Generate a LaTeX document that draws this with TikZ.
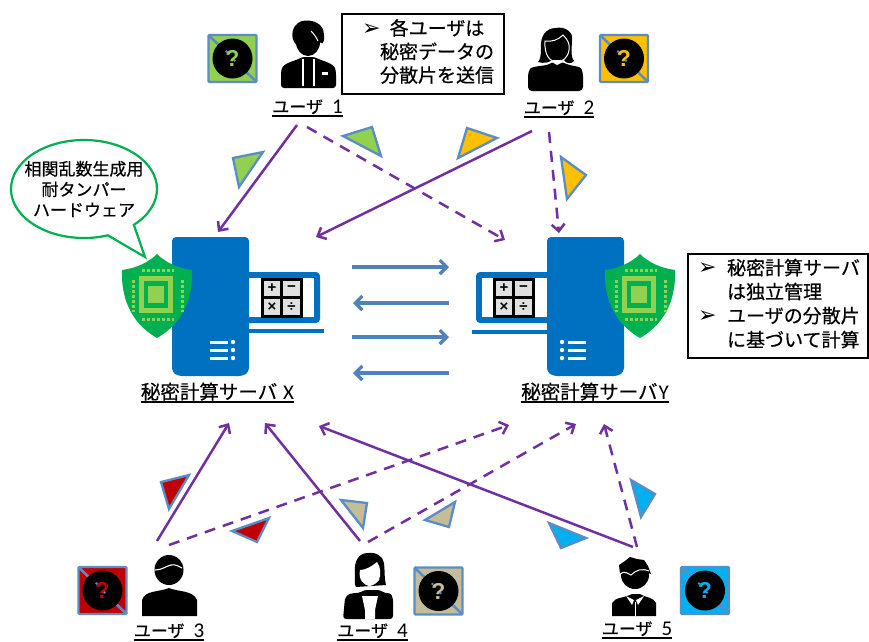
\documentclass[tikz,border=0pt]{standalone}
\usepackage{fontspec}
\setmainfont{Noto Sans CJK JP}[RawFeature={embolden=0.5}]
\newfontfamily\latinf{Carlito}
\newfontfamily\dejavu{DejaVu Sans}
\newfontfamily\arialf{Liberation Sans}
\usetikzlibrary{arrows.meta,shapes.callouts,shapes.geometric}
\definecolor{flowpurple}{RGB}{112,48,160}
\definecolor{linkblue}{RGB}{79,129,189}
\definecolor{edgeblue}{RGB}{91,140,198}
\definecolor{srvblue}{RGB}{0,112,192}
\definecolor{hwgreen}{RGB}{0,176,80}
\definecolor{lightgreen}{RGB}{146,208,80}
\definecolor{cOne}{RGB}{146,208,80}
\definecolor{cTwo}{RGB}{255,192,0}
\definecolor{cThree}{RGB}{192,0,0}
\definecolor{cFour}{RGB}{196,189,151}
\definecolor{cFive}{RGB}{0,176,240}
\newsavebox{\ulsave}
\newcommand{\ulbox}[2][-3.5pt]{\sbox{\ulsave}{#2}\leavevmode\rlap{\rule[#1]{\wd\ulsave}{1.4pt}}\usebox{\ulsave}}
\newcommand{\blt}{\makebox[13pt][l]{\dejavu\fontsize{22}{17}\selectfont ➢}}
\tikzset{
  solidflow/.style={draw=flowpurple,line width=2.5pt,-{Straight Barb[length=7pt,width=13pt]}},
  dashflow/.style={solidflow,dash pattern=on 11pt off 8pt},
  netlink/.style={draw=linkblue,line width=3.2pt,-{Straight Barb[length=7pt,width=14pt]}},
  share/.style={draw=edgeblue,line width=2.3pt,line join=miter},
  notebox/.style={draw=black,line width=1.2pt,inner sep=0pt,rectangle},
  ulabel/.style={anchor=base,inner sep=0pt,font=\fontsize{17}{20}\selectfont},
  slabel/.style={anchor=base,inner sep=0pt,font=\fontsize{19.5}{22}\selectfont},
  calc/.style={inner sep=0pt,font=\arialf\bfseries\fontsize{15}{15}\selectfont},
}
% question-mark share icon
\newcommand{\qicon}[4]{%
  \fill[#3] (#1-24,#2-23.5) rectangle (#1+24,#2+23.5);
  \draw[edgeblue,line width=2.6pt] (#1-24,#2-23.5) -- (#1+24,#2+23.5);
  \fill[black] (#1,#2) circle (20);
  \draw[edgeblue,line width=2.2pt,rounded corners=1pt] (#1-24,#2-23.5) rectangle (#1+24,#2+23.5);
  \node[inner sep=0pt,text=#3,font=\arialf\bfseries\fontsize{23}{23}\selectfont] (#4) at (#1,#2) {?};
  \fill[edgeblue] (#1-6,#2-7) circle (1.4) (#1+2,#2+2) circle (1.4);
}
% server tower
\newcommand{\tower}[1]{%
  \fill[srvblue,rounded corners=4pt] (#1,237) -- (#1+77,237) -- (#1+77,372) -- (#1+71,376) -- (#1+6,376) -- (#1,372) -- cycle;
}
% list marks on the tower
\newcommand{\listmarks}[3]{%
  \foreach \yy in {342,350,358} {
    \draw[white,line width=3pt] (#1,\yy) -- (#2,\yy);
    \fill[white] (#3,\yy) circle (2.2);
  }
}
% calculator
\newcommand{\calcicon}[5]{%
  \fill[white!88!black] (#1,279) rectangle (#1+39,316);
  \draw[black,line width=3pt] (#1,279) rectangle (#1+39,316);
  \draw[black,line width=2.4pt] (#1+19.5,279) -- (#1+19.5,316) (#1,297.5) -- (#1+39,297.5);
  \node[calc] (#2) at (#1+10,288.5) {+};
  \node[calc] (#3) at (#1+29.5,288.5) {−};
  \node[calc] (#4) at (#1+10,307) {×};
  \node[calc] (#5) at (#1+29.5,307) {÷};
}
% shield with chip
\newcommand{\shieldchip}[1]{%
  \fill[hwgreen] (#1,254) .. controls (#1+8,262) and (#1+20,268) .. (#1+35,270)
     .. controls (#1+36,295) and (#1+28,322) .. (#1,338)
     .. controls (#1-28,322) and (#1-36,295) .. (#1-35,270)
     .. controls (#1-20,268) and (#1-8,262) .. (#1,254) -- cycle;
  \fill[lightgreen] (#1-18,276) rectangle (#1+16,313);
  \fill[hwgreen] (#1-13,281) rectangle (#1+11,308);
  \fill[lightgreen] (#1-9,286) rectangle (#1+7,303);
  \draw[lightgreen,line width=3pt,dash pattern=on 3pt off 2pt]
     (#1-15,270) -- (#1+17,270) (#1-15,319) -- (#1+17,319)
     (#1-24,280) -- (#1-24,312) (#1+25,280) -- (#1+25,312);
}
\begin{document}
\begin{tikzpicture}[x=1pt,y=-1pt]
\useasboundingbox (0,0) rectangle (869,641);
\fill[white] (0,0) rectangle (869,641);

% --- endpoints
\coordinate (u1s) at (297,125); \coordinate (xa) at (218,232);
\coordinate (u1d) at (307,127); \coordinate (ya) at (505,240);
\coordinate (u2s) at (532,131); \coordinate (xb) at (316,237);
\coordinate (u2d) at (549,132); \coordinate (yb) at (559,233);
\coordinate (u3s) at (157,541); \coordinate (xc) at (229,423);
\coordinate (u3d) at (169,545); \coordinate (yc) at (509,425);
\coordinate (u4s) at (360,541); \coordinate (xd) at (265,423);
\coordinate (u4d) at (368,542); \coordinate (yd) at (576,424);
\coordinate (u5s) at (633,547); \coordinate (xe) at (319,426);
\coordinate (u5d) at (637,547); \coordinate (ye) at (604,424);
\coordinate (n1a) at (352,267); \coordinate (n1b) at (449,267);
\coordinate (n2a) at (449,303); \coordinate (n2b) at (353,303);
\coordinate (n3a) at (352,337); \coordinate (n3b) at (449,337);
\coordinate (n4a) at (449,373); \coordinate (n4b) at (353,373);

% --- server X
\fill[srvblue,rounded corners=4pt] (240,272) rectangle (320,323);
\fill[white] (245,278) rectangle (314,317);
\draw[srvblue,line width=4.5pt] (245,331) -- (324,331);
\calcicon{262}{plusx}{minusx}{timesx}{divx}
\tower{172}
\listmarks{210}{228}{233}
\shieldchip{157}

% --- server Y
\fill[srvblue,rounded corners=4pt] (476,272) rectangle (556,323);
\fill[white] (482,278) rectangle (550,317);
\draw[srvblue,line width=4.5pt] (472,332) -- (550,332);
\calcicon{494}{plusy}{minusy}{timesy}{divy}
\tower{547}
\listmarks{568}{586}{562}
\shieldchip{640}

% --- server labels
\node[slabel] (srvx) at (217.5,399) {\ulbox{秘密計算サーバ\hspace{6pt}{\latinf\fontsize{21}{22}\selectfont X}}};
\node[slabel] (srvy) at (595,399) {\ulbox{秘密計算サーバ\hspace{1pt}{\latinf\fontsize{21}{22}\selectfont Y}}};

% --- callout
\node[draw=hwgreen,line width=2.2pt,fill=white,shape=ellipse callout,inner xsep=-8pt,inner ysep=0pt,
      minimum width=146pt,minimum height=98pt,align=center,
      callout absolute pointer={(145,257)},callout pointer arc=24,
      font=\fontsize{17}{20.5}\selectfont] (hw) at (84,189)
      {相関乱数生成用\\耐タンパー\\ハードウェア};

% --- note boxes
\node[notebox,minimum width=162pt,minimum height=80pt,font=\fontsize{19}{23.5}\selectfont] (note1) at (423,54)
  {\begin{tabular}{@{\hspace{20pt}}l@{\hspace{5pt}}c@{\hspace{10pt}}}
   \blt & 各ユーザは\\ & 秘密データの\\ & 分散片を送信\end{tabular}};
\node[notebox,minimum width=180pt,minimum height=104pt,font=\fontsize{19}{24}\selectfont] (note2) at (778,306)
  {\begin{tabular}{@{\hspace{10pt}}l@{\hspace{16pt}}l@{\hspace{8pt}}}
   \blt & 秘密計算サーバ\\ & は独立管理\\
   \blt & ユーザの分散片\\ & に基づいて計算\end{tabular}};

% --- flows
\draw[solidflow] (u1s) -- (xa);
\draw[dashflow] (u1d) -- (ya);
\draw[solidflow] (u2s) -- (xb);
\draw[dashflow] (u2d) -- (yb);
\draw[solidflow] (u3s) -- (xc);
\draw[dashflow] (u3d) -- (yc);
\draw[solidflow] (u4s) -- (xd);
\draw[dashflow] (u4d) -- (yd);
\draw[solidflow] (u5s) -- (xe);
\draw[dashflow] (u5d) -- (ye);
\draw[netlink] (n1a) -- (n1b);
\draw[netlink] (n2a) -- (n2b);
\draw[netlink] (n3a) -- (n3b);
\draw[netlink] (n4a) -- (n4b);

% --- share triangles
\draw[share,fill=cOne] (233,158) -- (263,152) -- (239,187) -- cycle;
\draw[share,fill=cOne] (343,136) -- (372,127) -- (381,156) -- cycle;
\draw[share,fill=cTwo] (467,128) -- (497,138) -- (458,158) -- cycle;
\draw[share,fill=cTwo] (561,157) -- (586,175) -- (567,199) -- cycle;
\draw[share,fill=cThree] (161,482) -- (189,475) -- (169,509) -- cycle;
\draw[share,fill=cThree] (232,531) -- (269,518) -- (257,542) -- cycle;
\draw[share,fill=cFour] (341,500) -- (367,503) -- (363,528) -- cycle;
\draw[share,fill=cFour] (425,520) -- (455,502) -- (449,527) -- cycle;
\draw[share,fill=cFive] (549,523) -- (586,538) -- (561,548) -- cycle;
\draw[share,fill=cFive] (631,480) -- (655,494) -- (641,517) -- cycle;

% --- question icons
\qicon{232.5}{58.5}{cOne}{q1}
\qicon{624}{58.5}{cTwo}{q2}
\qicon{102.5}{590.5}{cThree}{q3}
\qicon{438.5}{591}{cFour}{q4}
\qicon{705}{590.5}{cFive}{q5}

% --- user 1
\fill[black,rounded corners=3pt] (281,88) -- (281,72) .. controls (283,63) and (295,61) .. (302,57) -- (315,57) .. controls (322,61) and (334,63) .. (336,72) -- (336,88) -- cycle;
\fill[black] (308,42) ellipse (12 and 14);
\fill[black] (302,21) .. controls (312,19) and (324,23) .. (324,35) .. controls (325,44) and (321,46) .. (319,40) .. controls (317,36) and (315,33) .. (312,31) .. controls (308,36) and (301,38) .. (299,46) .. controls (291,44) and (288,26) .. (302,21) -- cycle;
\draw[white,line width=1pt] (311,31) .. controls (314,34) and (316,37) .. (318,41);
\draw[white,line width=1.2pt] (303,59) -- (303,86) (314,59) -- (314,86);
\fill[white] (322,72) rectangle (328,75);

% --- user 2
\fill[black,rounded corners=4pt] (528,91) -- (528,72) .. controls (532,66) and (546,66) .. (552,62) -- (563,62) .. controls (570,66) and (580,66) .. (583,72) -- (583,91) -- cycle;
\fill[black] (556,28) .. controls (546,28) and (540,36) .. (541,48) .. controls (541,56) and (540,60) .. (538,62) .. controls (544,64) and (550,62) .. (552,60) -- (564,60) .. controls (566,64) and (572,64) .. (574,61) .. controls (570,56) and (572,46) .. (572,40) .. controls (574,32) and (564,26) .. (556,28) -- cycle;
\draw[white,line width=1pt,fill=black] (545,41) .. controls (552,42) and (558,40) .. (563,35) .. controls (568,40) and (570,44) .. (569,50) .. controls (568,58) and (562,62) .. (557,62) .. controls (550,62) and (544,55) .. (545,41) -- cycle;
\fill[white] (552,62) -- (557,65) -- (563,62) -- (561,60) -- (553,60) -- cycle;

% --- user 3
\fill[black] (142,616) -- (142,600) .. controls (145,590) and (160,592) .. (169,588) .. controls (178,592) and (193,590) .. (197,600) -- (197,616) -- cycle;
\fill[black] (169,570) ellipse (14.5 and 15);
\draw[white,line width=1.1pt] (155,570) .. controls (162,570) and (166,566) .. (171,565) .. controls (175,564) and (178,566) .. (182,568);

% --- user 4
\fill[black,rounded corners=3pt] (343,619) -- (345,598) .. controls (350,592) and (358,594) .. (364,590) -- (380,590) .. controls (386,594) and (390,592) .. (393,598) -- (393,619) -- cycle;
\fill[black] (368,553) .. controls (358,553) and (354,562) .. (355,572) .. controls (355,580) and (354,584) .. (356,587) -- (386,585) .. controls (384,578) and (385,570) .. (384,563) .. controls (383,556) and (376,552) .. (368,553) -- cycle;
\fill[white] (360,570) .. controls (366,570) and (372,566) .. (377,562) .. controls (381,568) and (381,574) .. (379,580) .. controls (376,584) and (372,586) .. (369,586) .. controls (364,585) and (358,580) .. (360,570) -- cycle;
\fill[white] (362,596) -- (378,596) -- (375,610) -- (375,619) -- (365,619) -- (365,610) -- cycle;

% --- user 5
\fill[black] (612,616) -- (612,603) .. controls (615,597) and (625,598) .. (632,594) -- (640,594) .. controls (647,598) and (653,597) .. (656,603) -- (656,616) -- cycle;
\fill[black] (635,575) ellipse (14 and 14);
\fill[black] (620,574) -- (619,565) -- (625,561) -- (630,557) -- (637,559) -- (644,560) -- (648,566) -- (651,574) -- (640,570) -- (630,574) -- cycle;
\draw[white,line width=1pt] (620,574) .. controls (625,570) and (628,574) .. (631,575) .. controls (636,570) and (642,568) .. (649,571);
\fill[white] (626,596) -- (634,600) -- (632,605) -- cycle (644,596) -- (636,600) -- (638,605) -- cycle;
\draw[white,line width=1pt] (635,602) -- (635,616);

% --- user labels
\newcommand{\ulab}[1]{\ulbox{ユーザ\hspace{9pt}{\latinf\fontsize{21}{20}\selectfont #1}}}
\node[ulabel] (u1) at (307.5,113) {\ulab{1}};
\node[ulabel] (u2) at (559,114) {\ulab{2}};
\node[ulabel] (u3) at (169,637) {\ulab{3}};
\node[ulabel] (u4) at (372.5,637) {\ulab{4}};
\node[ulabel] (u5) at (637,635) {\ulab{5}};
\end{tikzpicture}
\end{document}
